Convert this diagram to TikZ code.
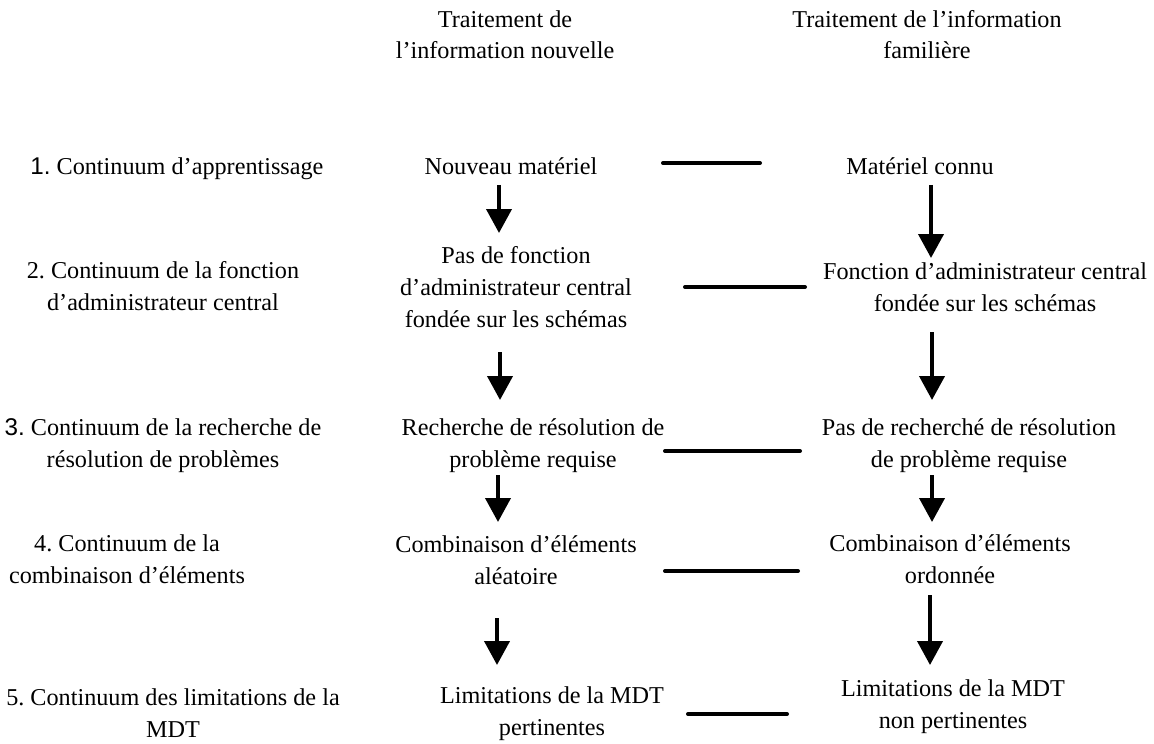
\documentclass[tikz,border=0pt]{standalone}
\usepackage{fontspec}
\setmainfont{Liberation Serif}
\newfontfamily\numfont{Liberation Sans}
\usetikzlibrary{arrows.meta}
\frenchspacing
\begin{document}
\begin{tikzpicture}[x=0.5pt,y=-0.5pt,
  txt/.style={inner sep=0pt,anchor=base,align=center,
    font=\fontsize{12.1pt}{15.8pt}\selectfont},
  link/.style={line width=2pt,line cap=round},
  flow/.style={line width=2pt,-{Triangle[width=12.5pt,length=12pt]}}]
\useasboundingbox (0,0) rectangle (1154,743);

% column headings (positions give the baseline of the last line)
\node[txt] (h1) at (505,59) {Traitement de\\l’information nouvelle};
\node[txt] (h2) at (927,59) {Traitement de l’information\\familière};

% row labels
\node[txt,anchor=base west] (l1) at (30,175) {{\numfont 1.} Continuum d’apprentissage};
\node[txt] (l2) at (163,310) {2. Continuum de la fonction\\d’administrateur central};
\node[txt] (l3) at (163,467) {{\numfont 3.} Continuum de la recherche de\\résolution de problèmes};
\node[txt] (l4) at (127,583) {4. Continuum de la\\combinaison d’éléments};
\node[txt] (l5) at (173,737) {5. Continuum des limitations de la\\MDT};

% new information column
\node[txt] (n1) at (511,175) {Nouveau matériel};
\node[txt] (n2) at (516,327) {Pas de fonction\\d’administrateur central\\fondée sur les schémas};
\node[txt] (n3) at (533,467) {Recherche de résolution de\\problème requise};
\node[txt] (n4) at (516,584) {Combinaison d’éléments\\aléatoire};
\node[txt] (n5) at (552,735) {Limitations de la MDT\\pertinentes};

% familiar information column
\node[txt] (f1) at (920,175) {Matériel connu};
\node[txt] (f2) at (985,311) {Fonction d’administrateur central\\fondée sur les schémas};
\node[txt] (f3) at (969,467) {Pas de recherché de résolution\\de problème requise};
\node[txt] (f4) at (950,583) {Combinaison d’éléments\\ordonnée};
\node[txt] (f5) at (953,728) {Limitations de la MDT\\non pertinentes};

% end points of the continuum bars
\coordinate (b1a) at (663,163); \coordinate (b1b) at (760,163);
\coordinate (b2a) at (685,287); \coordinate (b2b) at (805,287);
\coordinate (b3a) at (665,451); \coordinate (b3b) at (800,451);
\coordinate (b4a) at (665,571); \coordinate (b4b) at (798,571);
\coordinate (b5a) at (688,714); \coordinate (b5b) at (787,714);

\draw[link] (b1a) -- (b1b);
\draw[link] (b2a) -- (b2b);
\draw[link] (b3a) -- (b3b);
\draw[link] (b4a) -- (b4b);
\draw[link] (b5a) -- (b5b);

% arrow end points, left column
\coordinate (p1s) at (499,185); \coordinate (p1e) at (499,233);
\coordinate (p2s) at (500,352); \coordinate (p2e) at (500,400);
\coordinate (p3s) at (498,475); \coordinate (p3e) at (498,522);
\coordinate (p4s) at (497,618); \coordinate (p4e) at (497,665);
% arrow end points, right column
\coordinate (q1s) at (931,185); \coordinate (q1e) at (931,258);
\coordinate (q2s) at (932,332); \coordinate (q2e) at (932,400);
\coordinate (q3s) at (932,475); \coordinate (q3e) at (932,522);
\coordinate (q4s) at (930,595); \coordinate (q4e) at (930,665);

\draw[flow] (p1s) -- (p1e);
\draw[flow] (p2s) -- (p2e);
\draw[flow] (p3s) -- (p3e);
\draw[flow] (p4s) -- (p4e);
\draw[flow] (q1s) -- (q1e);
\draw[flow] (q2s) -- (q2e);
\draw[flow] (q3s) -- (q3e);
\draw[flow] (q4s) -- (q4e);
\end{tikzpicture}
\end{document}
